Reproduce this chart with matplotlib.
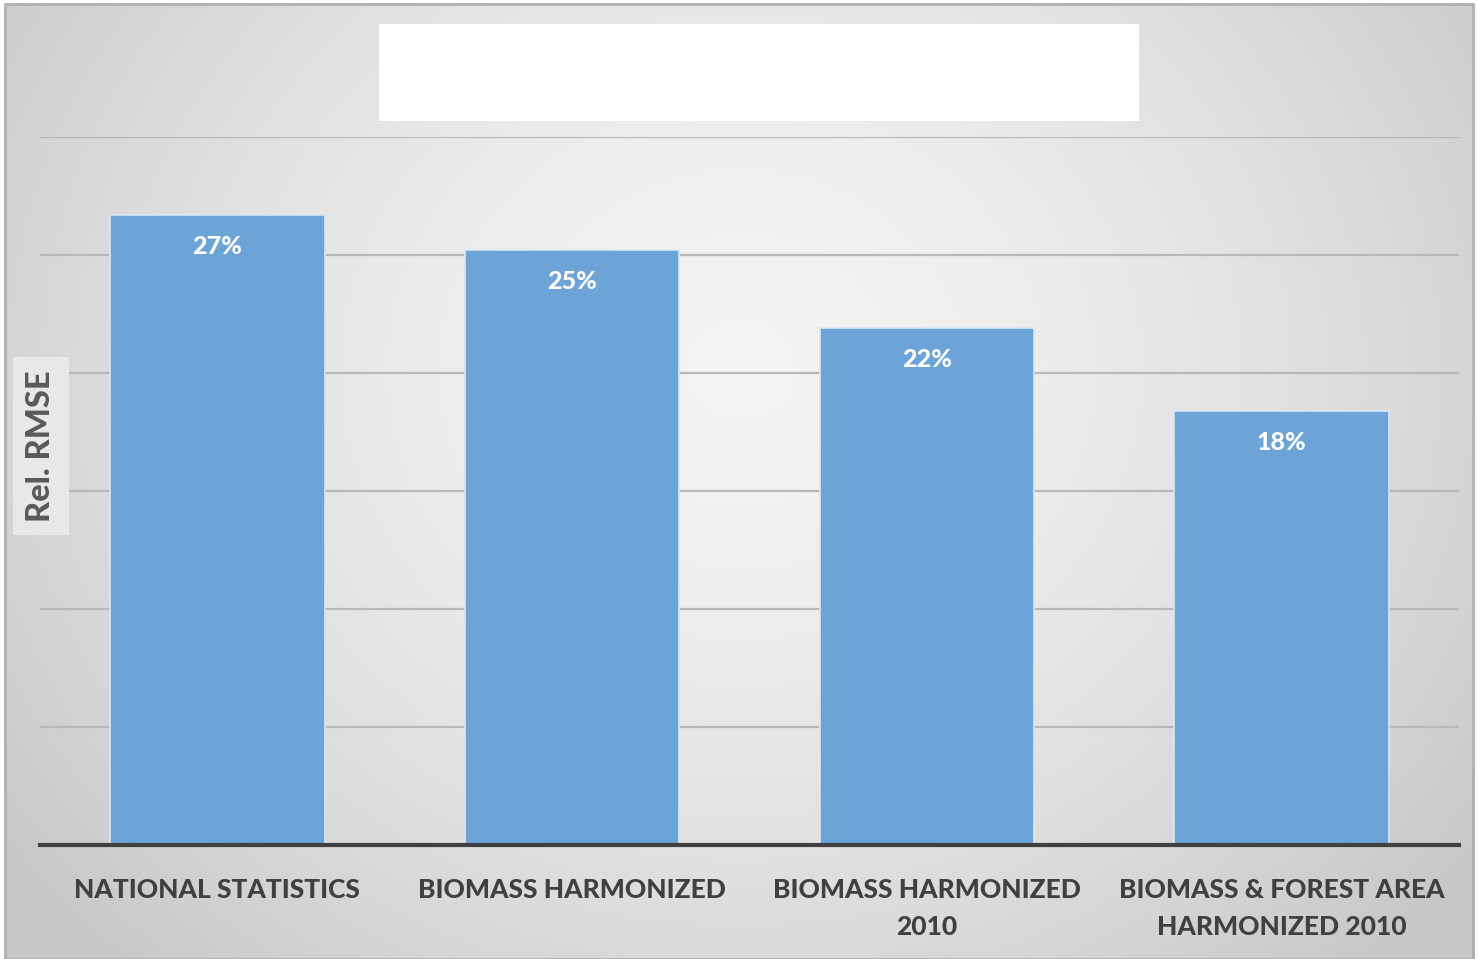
import numpy as np
import matplotlib
matplotlib.use("Agg")
import matplotlib.pyplot as plt
from matplotlib.patches import Rectangle

categories = ["NATIONAL STATISTICS", "BIOMASS HARMONIZED",
              "BIOMASS HARMONIZED\n2010", "BIOMASS & FOREST AREA\nHARMONIZED 2010"]
values = [26.7, 25.2, 21.9, 18.4]
value_labels = ["27%", "25%", "22%", "18%"]
ylabel = "Rel. RMSE"

W, H = 1478, 959
fig = plt.figure(figsize=(W / 100, H / 100), dpi=100)
fig.patch.set_facecolor("white")

# gradient background panel
bx0, by0, bx1, by1 = 5, 4, 1473, 959
bg = fig.add_axes([bx0 / W, 1 - by1 / H, (bx1 - bx0) / W, (by1 - by0) / H])
ny, nx = 200, 300
yy, xx = np.mgrid[0:ny, 0:nx]
cx, cy = nx * 0.5, ny * 0.38
r = np.sqrt(((xx - cx) / (nx * 0.62)) ** 2 + ((yy - cy) / (ny * 0.85)) ** 2)
r = np.clip(r, 0, 1)
val = 0.955 - 0.17 * r ** 1.6
img = np.dstack([val, val, val])
bg.imshow(img, aspect="auto", extent=[0, 1, 0, 1], interpolation="bicubic")
bg.set_axis_off()
fig.add_artist(Rectangle((bx0 / W, 1 - by1 / H), (bx1 - bx0) / W, (by1 - by0) / H,
                         transform=fig.transFigure, fill=False, edgecolor="#b0b0b0", lw=2))

# blank title box
fig.add_artist(Rectangle((379 / W, 1 - 121 / H), (1139 - 379) / W, (121 - 24) / H,
                         transform=fig.transFigure, facecolor="white", edgecolor="none", zorder=5))

FONT = ["Lato", "DejaVu Sans"]

ax = fig.add_axes([40 / W, 1 - 845 / H, (1459 - 40) / W, (845 - 137) / H])
ax.set_facecolor("none")
x = np.arange(len(categories))
ax.bar(x, values, width=0.605, color="#6ca4d8", edgecolor="#d8e8f6", linewidth=1.2, zorder=3)
ax.set_xlim(-0.5, 3.5)
ax.set_ylim(0, 30)
ax.set_yticks(np.arange(0, 31, 5))
ax.yaxis.grid(True, color="#b8b8b8", linewidth=1.6, zorder=0)
ax.tick_params(axis="y", length=0, labelleft=False)
ax.tick_params(axis="x", length=0, pad=24)
for s in ["left", "right", "top"]:
    ax.spines[s].set_visible(False)
ax.spines["bottom"].set_color("#404040")
ax.spines["bottom"].set_linewidth(3)
ax.spines["bottom"].set_zorder(4)

ax.set_xticks(x)
ax.set_xticklabels(categories, fontsize=19, fontweight=900, color="#404040",
                   family=FONT, linespacing=1.65, va="top")

for xi, v, lab in zip(x, values, value_labels):
    ax.annotate(lab, (xi, v), xytext=(0, -22.5), textcoords="offset points",
                ha="center", va="center", fontsize=18, fontweight=900,
                color="white", family=FONT, zorder=5)

fig.text(41 / W, 1 - 446 / H, ylabel, rotation=90, ha="center", va="center",
         fontsize=23.5, fontweight=900, color="#595959", family=FONT,
         bbox=dict(boxstyle="square,pad=0.4", facecolor="#e8e8e8", edgecolor="none"))

fig.savefig("out.png", dpi=100)
